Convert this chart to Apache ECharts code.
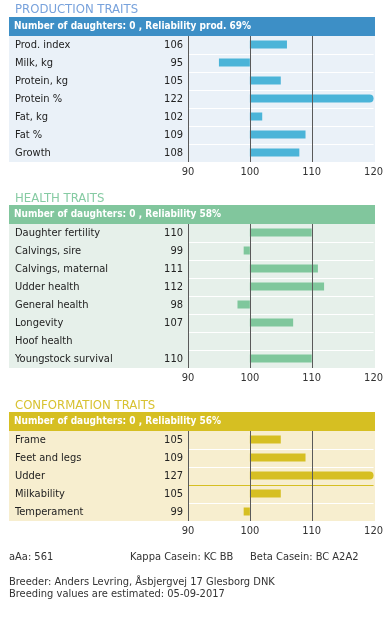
<!DOCTYPE html>
<html><head><meta charset="utf-8">
<script src="https://cdn.jsdelivr.net/npm/echarts@6/dist/echarts.min.js"></script>
<style>html,body{margin:0;padding:0;background:#fff}#c{width:386px;height:618px}</style>
</head><body><div id="c"></div>
<script>
// ---- data ----
const prodTraits = ['Prod. index','Milk, kg','Protein, kg','Protein %','Fat, kg','Fat %','Growth'];
const prodValues = [106,95,105,122,102,109,108];
const healthTraits = ['Daughter fertility','Calvings, sire','Calvings, maternal','Udder health','General health','Longevity','Hoof health','Youngstock survival'];
const healthValues = [110,99,111,112,98,107,null,110];
const confTraits = ['Frame','Feet and legs','Udder','Milkability','Temperament'];
const confValues = [105,109,127,105,99];
const axisTicks = [90,100,110,120];
const refLines = [90,100,110];
const baseValue = 100;
const sectionTitles = ['PRODUCTION TRAITS','HEALTH TRAITS','CONFORMATION TRAITS'];
const headerTexts = ['Number of daughters: 0 , Reliability prod. 69%','Number of daughters: 0 , Reliability 58%','Number of daughters: 0 , Reliability 56%'];
const infoLine = ['aAa: 561','Kappa Casein: KC BB','Beta Casein: BC A2A2'];
const footerLines = ['Breeder: Anders Levring, Åsbjergvej 17 Glesborg DNK','Breeding values are estimated: 05-09-2017'];

// ---- layout & style ----
const FONT = '"DejaVu Sans Condensed", "DejaVu Sans", sans-serif';
const ROW = 18;
const PLOT_LEFT = 188, PLOT_W = 187, BOX_LEFT = 9, BOX_W = 366;
const sections = [
  {traits: prodTraits, values: prodValues, top: 36, titleY: 10, headTop: 17,
   title: '#78a2dc', head: '#3d8fc6', bg: '#eaf1f8', bar: '#4bb4d8', sep: []},
  {traits: healthTraits, values: healthValues, top: 224, titleY: 199, headTop: 205,
   title: '#86cba3', head: '#81c69d', bg: '#e6f0ea', bar: '#7fc79c', sep: []},
  {traits: confTraits, values: confValues, top: 431, titleY: 406, headTop: 412,
   title: '#d8c231', head: '#d6bf22', bg: '#f7eecf', bar: '#d6bf22', sep: [3]}
];
const MIN = axisTicks[0], MAX = axisTicks[axisTicks.length-1], STEP = axisTicks[1]-axisTicks[0];

const grid = [], xAxis = [], yAxis = [], series = [], graphic = [];
sections.forEach((s, i) => {
  const n = s.traits.length;
  grid.push({left: PLOT_LEFT, width: PLOT_W, top: s.top, height: n*ROW, containLabel: false});
  xAxis.push({type: 'value', gridIndex: i, min: MIN, max: MAX, interval: STEP,
    axisLine: {show: false}, axisTick: {show: false},
    axisLabel: {color: '#333', fontFamily: FONT, fontSize: 11, margin: 5},
    splitLine: {show: false}});
  const sepColors = [];
  for (let k = 0; k <= n; k++) sepColors.push(k === 0 || k === n ? 'rgba(0,0,0,0)' : (s.sep.indexOf(k) >= 0 ? s.bar : '#ffffff'));
  yAxis.push({type: 'category', gridIndex: i, position: 'left', data: s.traits, inverse: true,
    axisLine: {show: false}, axisTick: {show: false},
    splitLine: {show: true, lineStyle: {color: sepColors, width: 1}},
    axisLabel: {align: 'left', margin: PLOT_LEFT - 15, color: '#222', fontFamily: FONT, fontSize: 11}});
  yAxis.push({type: 'category', gridIndex: i, position: 'left', offset: 0, data: s.traits, inverse: true,
    axisLine: {show: false}, axisTick: {show: false}, splitLine: {show: false},
    axisLabel: {align: 'right', margin: 5, color: '#222', fontFamily: FONT, fontSize: 11,
      formatter: (val, idx) => s.values[idx] == null ? '' : String(s.values[idx])}});
  series.push({type: 'custom', xAxisIndex: i, yAxisIndex: 2*i, z: 2,
    encode: {x: 0, y: 1},
    data: s.values.map((v, k) => [v, k]),
    renderItem: (params, api) => {
      const v = api.value(0);
      if (v == null || isNaN(v)) return null;
      const cat = api.value(1);
      const shown = Math.max(MIN, Math.min(MAX, v));
      const p0 = api.coord([baseValue, cat]);
      const p1 = api.coord([shown, cat]);
      const h = 8;
      const x = Math.min(p0[0], p1[0]), w = Math.abs(p1[0]-p0[0]);
      return {type: 'rect', shape: {x: x, y: p0[1]-h/2 - 0.5, width: w, height: h, r: v > MAX ? [0,4,4,0] : 0},
        style: {fill: s.bar}};
    }});
  // reference lines drawn above the bars
  series.push({type: 'custom', xAxisIndex: i, yAxisIndex: 2*i, z: 4, silent: true,
    encode: {x: 0},
    data: refLines.map(v => [v]),
    renderItem: (params, api) => {
      const cs = params.coordSys;
      const px = Math.round(api.coord([api.value(0), 0])[0]) + 0.5;
      return {type: 'line', shape: {x1: px, y1: cs.y, x2: px, y2: cs.y + cs.height},
        style: {stroke: '#5a5a5a', lineWidth: 1}};
    }});
  graphic.push({type: 'rect', z: -10, shape: {x: BOX_LEFT, y: s.top, width: BOX_W, height: n*ROW}, style: {fill: s.bg}});
  graphic.push({type: 'rect', z: -10, shape: {x: BOX_LEFT, y: s.headTop, width: BOX_W, height: s.top - s.headTop}, style: {fill: s.head}});
  graphic.push({type: 'text', left: 14, top: s.headTop + (s.top - s.headTop)/2 - 5.5,
    style: {text: headerTexts[i], fill: '#fff', font: 'bold 10px ' + FONT}});
  graphic.push({type: 'text', left: 15, top: s.titleY - 7,
    style: {text: sectionTitles[i], fill: s.title, font: '13px ' + FONT}});
});
const infoX = [9, 130, 250];
infoLine.forEach((t, k) => graphic.push({type: 'text', left: infoX[k], top: 552, style: {text: t, fill: '#333', font: '11px ' + FONT}}));
footerLines.forEach((t, k) => graphic.push({type: 'text', left: 9, top: 577 + k*12, style: {text: t, fill: '#333', font: '11px ' + FONT}}));

const chart = echarts.init(document.getElementById('c'), null, {renderer: 'canvas'});
chart.setOption({animation: false, grid, xAxis, yAxis, series, graphic});
</script></body></html>
